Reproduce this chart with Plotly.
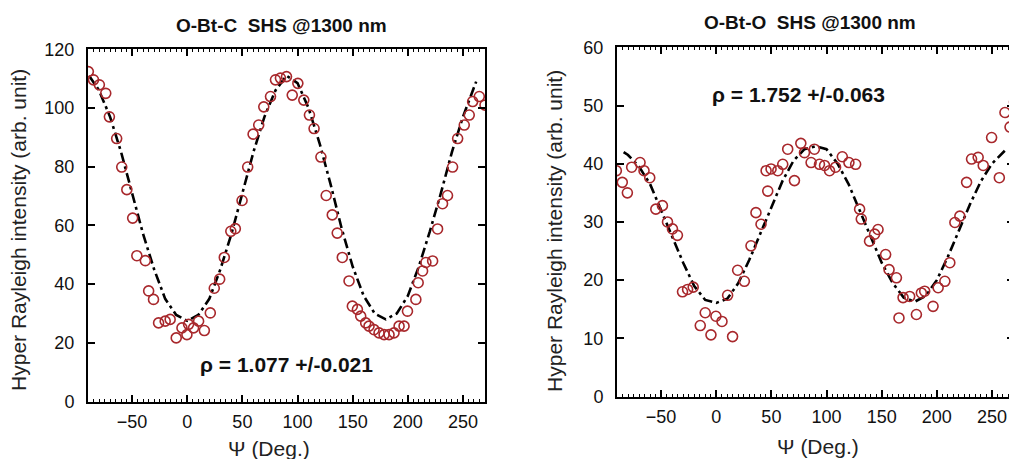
import plotly.graph_objects as go

# ---------------- data ----------------
psi_left = [-89.7, -85, -79.7, -73.9, -70.6, -64, -59.4, -54.8, -49.5, -45.7, -38, -35, -30.6, -26, -20,
            -15.5, -10, -4.8, -0.3, 1.2, 5.7, 10.3, 15.5, 20.9, 24.5, 29.4, 33.6, 39.5, 43.6, 49.7, 54.8,
            59.7, 64.8, 69.4, 75.5, 80, 84.5, 90, 95.2, 100.3, 105.7, 110.8, 115, 121.2, 126, 131.5, 136,
            140.6, 146.7, 149.7, 154.3, 157.3, 161.8, 164.8, 169.4, 173.9, 178.5, 183, 187.5, 192.1, 196.6,
            199.7, 207.3, 209.4, 213.4, 216.4, 222.5, 227, 231.5, 236, 240.6, 245.2, 251.2, 255.7, 258.8,
            264.8, 270]
int_left = [112.4, 109.6, 107.9, 105, 97, 89.6, 79.9, 72.2, 62.5, 49.7, 48, 37.7, 34.8, 26.8, 27.4,
            28, 21.7, 25.1, 22.8, 26.3, 25.1, 27.4, 24.2, 30.2, 38.6, 41.7, 49.1, 58, 58.9, 68.5, 79.9,
            91.1, 94.2, 100.4, 103.9, 109.6, 110.2, 110.7, 104.4, 108.4, 102.7, 97.6, 93, 83.3, 70.2, 63.6, 57.4,
            49.1, 41.1, 32.5, 31.4, 29.1, 26.8, 25.7, 24.5, 23.4, 22.8, 22.8, 23.4, 25.7, 25.7,
            30.8, 34.8, 40.5, 44.5, 47.4, 47.9, 58.8, 67.4, 70.2, 79.9, 89.6, 94.2, 97.6, 102.2,
            103.9, 101]

fit_psi_left = [-89, -80, -70, -60, -50, -40, -30, -20, -10, 0, 10, 20, 30, 40, 50, 60, 70, 80, 90,
                100, 110, 120, 130, 140, 150, 160, 170, 180, 190, 200, 210, 220, 230, 240, 250, 262]
fit_int_left = [111, 106, 97, 85, 71, 57, 45, 35, 29.5, 27.5, 29.5, 35, 45, 57, 71, 85, 97, 106, 111,
                108.5, 100, 88, 74, 59, 46, 36, 30, 28, 30, 36, 46, 58, 71, 85, 97, 109]

psi_right = [-90.6, -85.2, -80.6, -76.7, -69.1, -65.5, -60.3, -54.8, -48.8, -44.2, -39.7, -35.2, -30.6,
             -26, -20.9, -14.5, -10, -4.8, -0.3, 5.2, 10.3, 14.8, 19.4, 25.5, 31.5, 36, 40.6, 45.2, 46.7,
             49.7, 55.8, 60.3, 64.8, 70.9, 76.7, 80, 86, 89, 93.6, 98.2, 102.7, 108.2, 114.3, 120.3, 126.4,
             130, 131.5, 139, 143.6, 146.7, 153.6, 156.7, 163.4, 165.7, 169.4, 175.4, 181.5, 186, 189,
             196.6, 201.2, 207.3, 211.8, 216.4, 220.9, 227, 231.5, 237.5, 242.1, 249.7, 256.7, 261.8,
             266.4, 270.5]
int_right = [38.8, 36.8, 35, 39.4, 40.2, 38.8, 37.6, 32.2, 32.8, 30, 28.8, 27.7, 18,
             18.4, 18.8, 12.2, 14.4, 10.6, 13.8, 12.9, 17.4, 10.3, 21.7, 19.8, 25.9, 31.6, 29.6, 38.8, 35.3,
             39.1, 38.8, 39.9, 42.5, 37.1, 43.5, 41.9, 40.2, 42.5, 39.9, 39.7, 38.8, 39.4, 41.2, 40.2, 39.9,
             32.2, 30.5, 26.7, 27.9, 28.7, 24.4, 21.8, 20.4, 13.5, 17, 17.2, 14.1, 17.8, 18.1,
             15.5, 18.7, 19.8, 23, 29.9, 31, 36.8, 40.8, 41.1, 39.7, 44.5, 37.6, 48.8,
             46.3, 50.6]

fit_psi_right = [-84, -80, -70, -60, -50, -40, -30, -20, -10, 0, 10, 20, 30, 40, 50, 60, 70, 80, 90,
                 100, 110, 120, 130, 140, 150, 160, 170, 180, 190, 200, 210, 220, 230, 240, 250, 262]
fit_int_right = [42, 41.5, 39.5, 36.5, 32, 27.5, 23, 19, 16.6, 16.1, 16.8, 19.5, 23.5, 28, 32.5, 37, 40.5,
                 42.5, 43, 42.5, 40, 36.5, 32, 27.5, 23, 19.5, 17, 16.3, 17.3, 20, 24, 28.5, 33, 37, 40, 42.3]

x_ticks = [-50, 0, 50, 100, 150, 200, 250]
y_ticks_left = [0, 20, 40, 60, 80, 100, 120]
y_ticks_right = [0, 10, 20, 30, 40, 50, 60]

title_left = "O-Bt-C\u00a0 SHS @1300 nm"
title_right = "O-Bt-O\u00a0 SHS @1300 nm"
rho_left = "\u03c1 = 1.077 +/-0.021"
rho_right = "\u03c1 = 1.752 +/-0.063"
y_title = "Hyper Rayleigh intensity (arb. unit)"
x_title = "\u03a8 (Deg.)"

# ---------------- styling ----------------
OFF = 8
W, H = 1017 - OFF, 470
FONT = "Liberation Sans, Arial, sans-serif"
MARK = "#a8282c"

def px(x):
    return (x - OFF) / W

def py(y):
    fy = (y - 17.8) / 0.954
    return 1 - fy / H

fig = go.Figure()

fit_line = dict(color="black", width=2.6, dash="10px,4px,3px,4px")
mk = dict(symbol="circle-open", size=10, color=MARK, line=dict(width=1.6, color=MARK))

fig.add_trace(go.Scatter(x=fit_psi_left, y=fit_int_left, mode="lines", xaxis="x", yaxis="y",
                         line=fit_line, showlegend=False))
fig.add_trace(go.Scatter(x=psi_left, y=int_left, mode="markers", xaxis="x", yaxis="y",
                         marker=mk, showlegend=False))
fig.add_trace(go.Scatter(x=fit_psi_right, y=fit_int_right, mode="lines", xaxis="x2", yaxis="y2",
                         line=fit_line, showlegend=False))
fig.add_trace(go.Scatter(x=psi_right, y=int_right, mode="markers", xaxis="x2", yaxis="y2",
                         marker=mk, showlegend=False))

tickfont = dict(family=FONT, size=18, color="#111")

def xaxis(domain, anchor):
    return dict(domain=domain, anchor=anchor, range=[-90, 270], tickvals=x_ticks,
                showline=True, linecolor="black", linewidth=2, mirror="allticks",
                ticks="inside", ticklen=7, tickwidth=1.5, tickcolor="black",
                minor=dict(dtick=5, ticks="inside", ticklen=3, tickwidth=1, tickcolor="black"),
                showgrid=False, zeroline=False, tickfont=tickfont, ticklabelstandoff=3)

def yaxis(domain, anchor, rng, vals):
    return dict(domain=domain, anchor=anchor, range=rng, tickvals=vals,
                showline=True, linecolor="black", linewidth=2, mirror="allticks",
                ticks="inside", ticklen=7, tickwidth=1.5, tickcolor="black",
                showgrid=False, zeroline=False, tickfont=tickfont, ticklabelstandoff=8)

annotations = [
    dict(text="<b>" + title_left + "</b>", x=px(281), y=py(25), font=dict(family=FONT, size=19, color="#111")),
    dict(text="<b>" + title_right + "</b>", x=px(810), y=py(22), font=dict(family=FONT, size=19, color="#111")),
    dict(text=y_title, x=px(19), y=py(229), textangle=-90, font=dict(family=FONT, size=21, color="#222")),
    dict(text=y_title, x=px(555), y=py(230), textangle=-90, font=dict(family=FONT, size=21, color="#222")),
    dict(text=x_title, x=px(269), y=py(447), font=dict(family=FONT, size=21, color="#222")),
    dict(text=x_title, x=px(818), y=py(445), font=dict(family=FONT, size=21, color="#222")),
    dict(text="<b>" + rho_left + "</b>", x=px(198), y=py(363), xanchor="left", font=dict(family=FONT, size=21, color="#111")),
    dict(text="<b>" + rho_right + "</b>", x=px(710), y=py(94), xanchor="left", font=dict(family=FONT, size=21, color="#111")),
]
for a in annotations:
    a.update(xref="paper", yref="paper", showarrow=False)
    a.setdefault("xanchor", "center")
    a.setdefault("yanchor", "middle")

fig.update_layout(
    width=W, height=H, autosize=False,
    margin=dict(l=0, r=0, t=0, b=0),
    paper_bgcolor="white", plot_bgcolor="white",
    xaxis=xaxis([px(88), px(485)], "y"),
    yaxis=yaxis([py(400), py(49)], "x", [0, 120], y_ticks_left),
    xaxis2=xaxis([px(617), px(1014)], "y2"),
    yaxis2=yaxis([py(395), py(47)], "x2", [0, 60], y_ticks_right),
    annotations=annotations,
    showlegend=False,
)

fig.write_html("out.html")
